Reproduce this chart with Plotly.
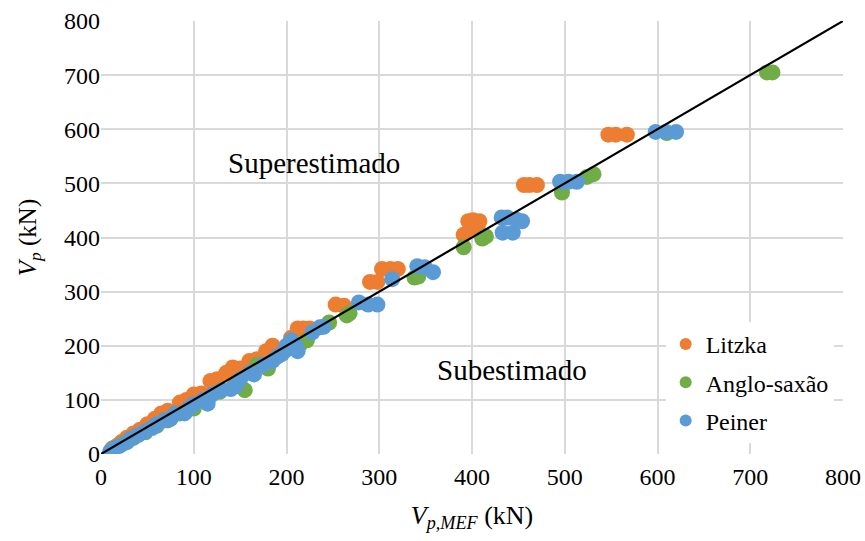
import plotly.graph_objects as go

# Shear resistance: FEM value (x) against analytical prediction (y), kN
litzka_x = [12, 18, 22, 28, 35, 42, 50, 58, 65, 72, 85, 92, 100, 108, 118, 125, 135, 142, 150,
            160, 168, 178, 185, 205, 212, 218, 225, 253, 262, 290, 298, 303, 312, 320,
            391, 396, 401, 408, 399, 406, 456, 462, 470, 547, 555, 567]
litzka_y = [10, 16, 22, 30, 38, 45, 55, 65, 75, 80, 95, 100, 110, 112, 135, 138, 150, 160, 158,
            172, 175, 190, 200, 215, 232, 232, 232, 276, 274, 318, 318, 342, 342, 342,
            405, 430, 432, 430, 418, 418, 497, 497, 497, 590, 590, 590]

anglo_x = [15, 25, 35, 48, 60, 72, 85, 100, 112, 128, 145, 155, 168, 180, 195, 215, 222,
           246, 265, 268, 338, 342, 391, 411, 415, 497, 524, 531, 610, 718, 724]
anglo_y = [12, 20, 30, 40, 52, 62, 75, 84, 100, 115, 130, 118, 165, 158, 185, 203, 210,
           243, 256, 260, 326, 328, 382, 398, 402, 483, 512, 517, 593, 705, 705]

peiner_x = [10, 14, 20, 28, 32, 40, 48, 55, 60, 68, 75, 80, 90, 95, 100, 110, 115, 120, 130,
            140, 145, 150, 160, 165, 175, 185, 190, 195, 200, 205, 210, 200, 212, 228, 236, 240,
            278, 288, 298, 314, 341, 349, 358, 432, 438, 448, 454, 433, 444,
            495, 504, 513, 598, 609, 620]
peiner_y = [5, 10, 15, 22, 28, 35, 42, 48, 55, 62, 65, 75, 75, 85, 92, 100, 93, 110, 118,
            120, 125, 138, 150, 147, 165, 172, 180, 185, 193, 210, 200, 200, 190, 225, 234, 235,
            280, 276, 276, 323, 347, 345, 336, 437, 437, 433, 430, 409, 409,
            503, 503, 503, 595, 595, 595]

series = [
    ("Litzka", litzka_x, litzka_y, "#ED7D31"),
    ("Anglo-saxão", anglo_x, anglo_y, "#70AD47"),
    ("Peiner", peiner_x, peiner_y, "#5B9BD5"),
]

ref_line = [0, 800]
tick_vals = [0, 100, 200, 300, 400, 500, 600, 700, 800]

FONT = "Liberation Serif"

fig = go.Figure()

for name, xs, ys, color in series:
    fig.add_trace(go.Scatter(
        x=xs, y=ys, mode="markers", name=name, legendgroup=name,
        marker=dict(size=16, color=color, line=dict(width=0)),
    ))

fig.add_trace(go.Scatter(
    x=ref_line, y=ref_line, mode="lines", showlegend=False,
    line=dict(color="black", width=2.2),
))

fig.add_annotation(x=230, y=538, text="Superestimado", showarrow=False,
                   font=dict(family=FONT, size=29, color="black"))
fig.add_annotation(x=443, y=155, text="Subestimado", showarrow=False,
                   font=dict(family=FONT, size=29, color="black"))

axis_common = dict(
    range=[0, 800], tickvals=tick_vals, showgrid=True, gridcolor="#D9D9D9",
    gridwidth=1.5, zeroline=False, ticks="", showline=False, automargin=False,
    tickfont=dict(family=FONT, size=24, color="black"),
)

fig.update_xaxes(
    **axis_common,
    ticklabelstandoff=6,
    title=dict(text="<i>V<sub>p,MEF</sub></i> (kN)", font=dict(family=FONT, size=26, color="black"),
               standoff=16),
)
fig.update_yaxes(
    **axis_common,
    title=dict(text="<i>V<sub>p</sub></i> (kN)", font=dict(family=FONT, size=25, color="black"),
               standoff=20),
)

fig.update_layout(
    width=865, height=541,
    margin=dict(l=101, r=22, t=21, b=87),
    plot_bgcolor="white", paper_bgcolor="white",
    font=dict(family=FONT, color="black"),
    legend=dict(
        x=0.761, y=0.305, xanchor="left", yanchor="top",
        bgcolor="white", borderwidth=0,
        font=dict(family=FONT, size=24, color="black"),
        traceorder="grouped", tracegroupgap=4,
        itemsizing="constant", itemwidth=30,
    ),
)

fig.write_html("out.html")
